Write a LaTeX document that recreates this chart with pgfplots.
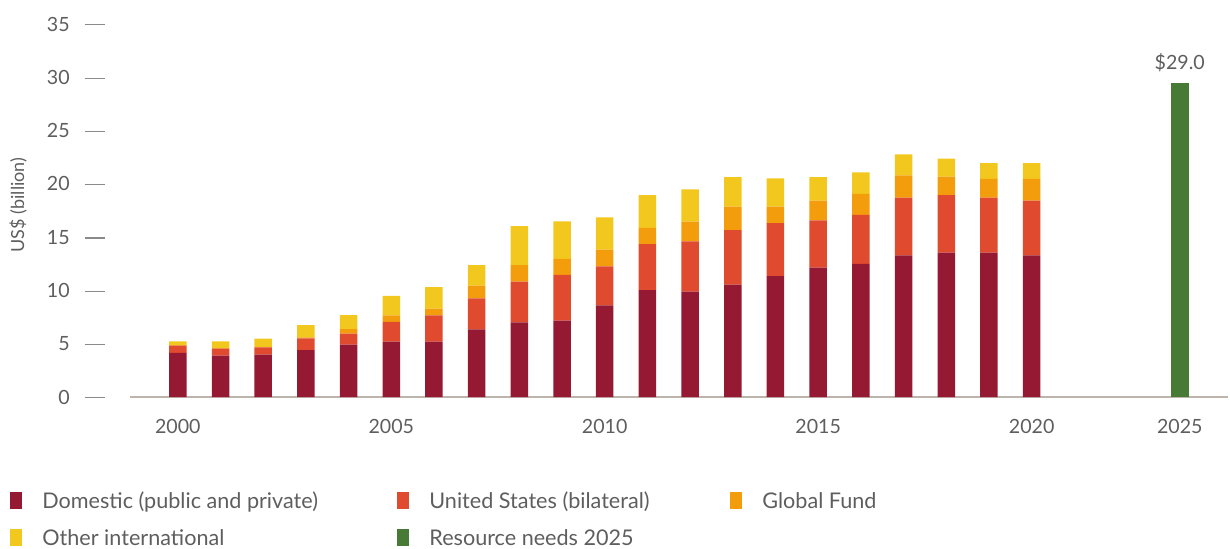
\documentclass[border=0pt]{standalone}
\usepackage{pgfplots}
\pgfplotsset{compat=1.18}
\usepackage{fontspec}
\setmainfont{Lato}
\definecolor{dom}{HTML}{951933}
\definecolor{usb}{HTML}{E04A2E}
\definecolor{gf}{HTML}{F49D0C}
\definecolor{oth}{HTML}{F2C81E}
\definecolor{resg}{HTML}{477A35}
\definecolor{txtgray}{HTML}{5E5E5E}
\definecolor{rulegray}{HTML}{8A8A8A}
\definecolor{axgray}{HTML}{BDB4AD}
\pgfplotsset{
  sqlegend/.style={legend image code/.code={\fill[##1] (0pt,-3pt) rectangle (6pt,5.5pt);}},
}
\begin{document}
\fontsize{9.8pt}{12pt}\selectfont
\begin{tikzpicture}
\path[use as bounding box] (-65pt,-75.5pt) rectangle (550pt,198.5pt);
\begin{axis}[
  at={(0pt,0pt)}, anchor=south west,
  scale only axis, width=549pt, height=186.5pt,
  xmin=-1.12, xmax=24.6, ymin=0, ymax=35,
  ybar stacked, bar width=0.41,
  axis x line*=bottom, axis y line*=left,
  x axis line style={draw=axgray, line width=0.7pt, -},
  y axis line style={draw=none},
  major tick length=0pt,
  xtick={0,5,10,15,20,23.47},
  xticklabels={2000,2005,2010,2015,2020,2025},
  xticklabel style={text=txtgray, yshift=-7.5pt},
  ytick={0,5,...,35},
  yticklabel={\pgfmathprintnumber{\tick}\hspace{7.5pt}\textcolor{rulegray}{\rule[2.8pt]{10pt}{0.55pt}}},
  yticklabel style={text=txtgray, anchor=east, xshift=-9.2pt},
  /pgf/number format/assume math mode=true,
  ylabel={US\$ (billion)},
  every axis y label/.style={at={(axis description cs:0,0.515)}, xshift=-56pt, rotate=90, anchor=center, text=txtgray, font=\fontsize{9pt}{11pt}\selectfont},
  legend columns=3,
  legend cell align=left,
  legend style={at={(axis description cs:0,0)}, anchor=north west, xshift=-60pt, yshift=-47.5pt,
    draw=none, fill=none, inner sep=0pt, row sep=8pt, column sep=0pt,
    font=\fontsize{10.8pt}{13pt}\selectfont,
    /tikz/every odd column/.append style={column sep=10pt},
    nodes={inner sep=0pt, text height=7.5pt, text depth=2.5pt, text=txtgray}},
]
\addplot[fill=dom, draw=none, forget plot] coordinates {
(0,4.15) (1,3.88) (2,3.97) (3,4.41) (4,4.91) (5,5.19) (6,5.19) (7,6.35) (8,7.01) (9,7.16) (10,8.60)
(11,10.04) (12,9.88) (13,10.54) (14,11.35) (15,12.13) (16,12.50) (17,13.29) (18,13.54) (19,13.54) (20,13.29)};
\addplot[fill=usb, draw=none, forget plot] coordinates {
(0,0.67) (1,0.65) (2,0.69) (3,1.09) (4,1.03) (5,1.85) (6,2.47) (7,2.91) (8,3.81) (9,4.31) (10,3.66)
(11,4.31) (12,4.72) (13,5.13) (14,4.97) (15,4.44) (16,4.60) (17,5.41) (18,5.41) (19,5.16) (20,5.13)};
\addplot[fill=gf, draw=none, forget plot] coordinates {
(0,0.05) (1,0.05) (2,0.05) (3,0.10) (4,0.44) (5,0.62) (6,0.63) (7,1.18) (8,1.56) (9,1.50) (10,1.56)
(11,1.53) (12,1.85) (13,2.19) (14,1.54) (15,1.85) (16,1.97) (17,2.10) (18,1.72) (19,1.78) (20,2.06)};
\addplot[fill=oth, draw=none, forget plot] coordinates {
(0,0.35) (1,0.64) (2,0.76) (3,1.15) (4,1.31) (5,1.84) (6,2.03) (7,1.94) (8,3.66) (9,3.51) (10,3.04)
(11,3.07) (12,3.03) (13,2.78) (14,2.66) (15,2.22) (16,2.00) (17,1.97) (18,1.69) (19,1.47) (20,1.47)};
\addlegendimage{fill=dom, draw=none, sqlegend}
\addlegendentry{\makebox[177.5pt][l]{Domestic (public and private)}}
\addlegendimage{fill=usb, draw=none, sqlegend}
\addlegendentry{\makebox[150.5pt][l]{United States (bilateral)}}
\addlegendimage{fill=gf, draw=none, sqlegend}
\addlegendentry{Global Fund}
\addlegendimage{fill=oth, draw=none, sqlegend}
\addlegendentry{\makebox[177.5pt][l]{Other international}}
\addlegendimage{fill=resg, draw=none, sqlegend}
\addlegendentry{\makebox[150.5pt][l]{Resource needs 2025}}
\end{axis}
\begin{axis}[
  at={(0pt,0pt)}, anchor=south west,
  scale only axis, width=549pt, height=186.5pt,
  xmin=-1.12, xmax=24.6, ymin=0, ymax=35,
  hide axis,
  ybar, bar width=0.41, bar shift=0pt,
  nodes near coords={\$29.0},
  every node near coord/.append style={text=txtgray, anchor=south, yshift=2pt},
]
\addplot[fill=resg, draw=none] coordinates {(23.47,29.5)};
\end{axis}
\end{tikzpicture}
\end{document}
